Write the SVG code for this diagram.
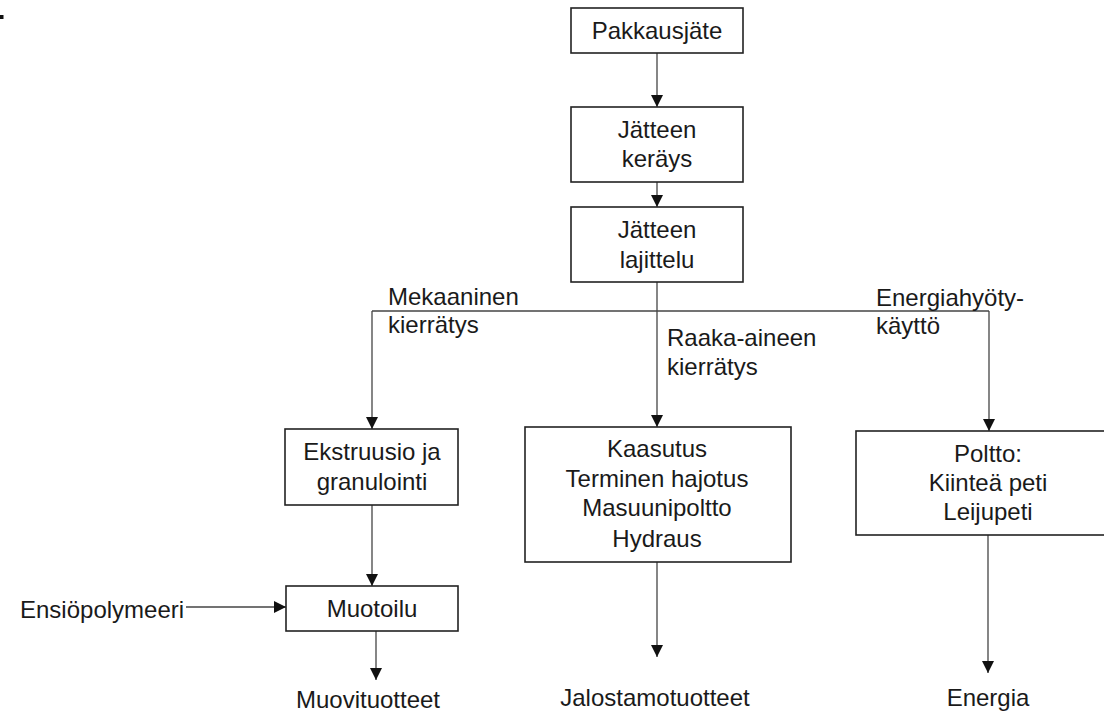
<svg xmlns="http://www.w3.org/2000/svg" width="1104" height="713" viewBox="0 0 1104 713">
<style>
.box{fill:#fff;stroke:#222;stroke-width:1.6}
.t{font-family:"Liberation Sans",Arial,sans-serif;font-size:24px;fill:#1a1a1a}
.c{text-anchor:middle}
.ln{fill:none;stroke:#444;stroke-width:1.3}
</style>
<defs>
<marker id="ah" markerUnits="userSpaceOnUse" markerWidth="12" markerHeight="12" refX="12" refY="6" orient="auto">
<path d="M0,0 L12,6 L0,12 Z" fill="#111"/>
</marker>
</defs>
<rect x="0" y="15" width="3.5" height="4" fill="#111"/>
<g id="connectors">
<line class="ln" x1="657" y1="53" x2="657" y2="107" marker-end="url(#ah)"/>
<line class="ln" x1="657" y1="182" x2="657" y2="207" marker-end="url(#ah)"/>
<line class="ln" x1="657" y1="282" x2="657" y2="427" marker-end="url(#ah)"/>
<line class="ln" x1="372" y1="311" x2="989" y2="311"/>
<line class="ln" x1="372" y1="311" x2="372" y2="429" marker-end="url(#ah)"/>
<line class="ln" x1="989" y1="311" x2="989" y2="431" marker-end="url(#ah)"/>
<line class="ln" x1="372" y1="505" x2="372" y2="586" marker-end="url(#ah)"/>
<line class="ln" x1="186" y1="607" x2="286" y2="607" marker-end="url(#ah)"/>
<line class="ln" x1="376" y1="631" x2="376" y2="680" marker-end="url(#ah)"/>
<line class="ln" x1="657" y1="562" x2="657" y2="657" marker-end="url(#ah)"/>
<line class="ln" x1="988" y1="535" x2="988" y2="673" marker-end="url(#ah)"/>
<text class="t" x="388" y="305">Mekaaninen</text>
<text class="t" x="388" y="333">kierrätys</text>
<text class="t" x="667" y="346">Raaka-aineen</text>
<text class="t" x="667" y="375">kierrätys</text>
<text class="t" x="876" y="306">Energiahyöty-</text>
<text class="t" x="876" y="334">käyttö</text>
</g>
<g id="pakkausjate">
<rect class="box" x="571" y="8" width="172" height="45"/>
<text class="t c" x="657" y="39">Pakkausjäte</text>
</g>
<g id="kerays">
<rect class="box" x="571" y="107" width="172" height="75"/>
<text class="t c" x="657" y="138">Jätteen</text>
<text class="t c" x="657" y="167">keräys</text>
</g>
<g id="lajittelu">
<rect class="box" x="571" y="207" width="172" height="75"/>
<text class="t c" x="657" y="238">Jätteen</text>
<text class="t c" x="657" y="268">lajittelu</text>
</g>
<g id="ekstruusio">
<rect class="box" x="285" y="429" width="173" height="76"/>
<text class="t c" x="372" y="460">Ekstruusio ja</text>
<text class="t c" x="372" y="490">granulointi</text>
</g>
<g id="kaasutus">
<rect class="box" x="525" y="427" width="266" height="135"/>
<text class="t c" x="657" y="457">Kaasutus</text>
<text class="t c" x="657" y="487">Terminen hajotus</text>
<text class="t c" x="657" y="516">Masuunipoltto</text>
<text class="t c" x="657" y="547">Hydraus</text>
</g>
<g id="poltto">
<rect class="box" x="856" y="431" width="264" height="104"/>
<text class="t c" x="988" y="462">Poltto:</text>
<text class="t c" x="988" y="491">Kiinteä peti</text>
<text class="t c" x="988" y="520">Leijupeti</text>
</g>
<g id="muotoilu">
<rect class="box" x="286" y="586" width="172" height="45"/>
<text class="t c" x="372" y="617">Muotoilu</text>
</g>
<g id="ensiopolymeeri">
<text class="t" x="20" y="618">Ensiöpolymeeri</text>
</g>
<g id="muovituotteet">
<text class="t c" x="368" y="708">Muovituotteet</text>
</g>
<g id="jalostamotuotteet">
<text class="t c" x="655" y="706">Jalostamotuotteet</text>
</g>
<g id="energia">
<text class="t c" x="988" y="706">Energia</text>
</g>
</svg>
